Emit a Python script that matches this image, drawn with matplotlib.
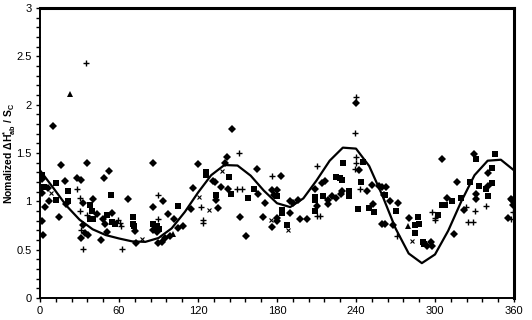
import matplotlib
matplotlib.use("Agg")
import matplotlib.pyplot as plt
from matplotlib.ticker import MultipleLocator

plt.rcParams['font.family'] = ['Liberation Sans', 'DejaVu Sans']
plt.rcParams['mathtext.default'] = 'regular'

# model curve (hue angle, normalized value)
curve_h = [0, 10, 20, 30, 40, 50, 60, 70, 80, 90, 100, 110, 120, 130, 140, 150, 160, 170, 180,
           190, 200, 210, 220, 230, 240, 250, 260, 270, 280, 290, 300, 310, 320, 330, 340, 350, 360]
curve_v = [1.32, 1.14, 0.955, 0.81, 0.71, 0.65, 0.615, 0.585, 0.58, 0.62, 0.72, 0.89, 1.09, 1.27,
           1.375, 1.37, 1.265, 1.11, 0.98, 0.94, 1.03, 1.215, 1.42, 1.555, 1.545, 1.365, 1.06,
           0.72, 0.46, 0.36, 0.45, 0.695, 1.0, 1.27, 1.42, 1.43, 1.32]

diam_h = [1.5, 1.5, 1.5, 2, 4, 6.3, 7, 9.6, 14.5, 16, 19, 20, 28.4, 31, 32.4, 31, 33, 34, 36.7, 35.5,
          40, 43, 48.6, 48, 49, 51, 46.3, 52.6, 54.4, 66.6, 72, 72.6, 86, 85.5, 86, 88.6, 89.8, 92.9,
          93.6, 95, 97.4, 98.7, 101.7, 105, 108.8, 115, 116.4, 120, 131.6, 133, 134, 135.4, 137.4,
          140.5, 141.7, 143, 145.5, 151.9, 156.4, 165, 165.8, 169.5, 171, 176, 176, 178, 179.7, 179.7,
          180, 183, 190, 190, 192, 196, 197.4, 203, 208.8, 210.6, 214.4, 216.4, 218.4, 218.4, 222, 225,
          228.3, 229.5, 240, 242.5, 248, 252, 253, 257.6, 260, 263, 261, 266, 271.6, 260, 262, 268,
          280.4, 293.6, 297.9, 296.9, 305, 308.8, 314.6, 317, 322, 329.8, 330.8, 331, 340.4, 340.4,
          355.6, 357.6, 358.6, 359.4]
diam_v = [1.23, 1.09, 0.80, 0.65, 0.94, 1.135, 1.0, 1.78, 0.835, 1.38, 1.21, 0.97, 1.24, 1.22, 0.98, 0.62,
          0.755, 0.67, 0.65, 1.40, 1.02, 0.87, 1.24, 0.82, 0.765, 0.686, 0.60, 1.31, 0.876, 1.02, 0.69,
          0.565, 1.40, 0.945, 0.70, 0.686, 0.57, 0.575, 1.0, 0.62, 0.865, 0.64, 0.82, 0.72, 0.745, 0.92,
          1.135, 1.39, 1.21, 1.20, 1.01, 0.93, 1.15, 1.40, 1.455, 1.13, 1.745, 0.835, 0.645, 1.33, 1.075,
          0.84, 0.98, 1.12, 0.73, 1.07, 0.825, 0.80, 1.12, 1.26, 1.0, 0.875, 0.985, 1.01, 0.815, 0.815,
          1.125, 0.95, 1.19, 1.21, 1.01, 0.97, 1.05, 1.03, 1.08, 1.11, 2.02, 1.32, 1.105, 1.17, 0.97,
          1.16, 1.145, 1.145, 1.065, 1.0, 0.98, 0.77, 0.77, 0.755, 0.825, 0.54, 0.54, 0.58, 1.44, 1.03,
          0.66, 1.20, 0.91, 1.486, 1.075, 1.02, 1.29, 1.16, 0.83, 1.02, 1.01, 0.96]

sq_h = [1.3, 2.8, 12, 12, 21.5, 21.5, 38, 39.2, 38, 40, 50.6, 54, 54.4, 57, 70.4, 70.4, 71.6, 86, 88.6,
        90.6, 105, 125.8, 125.8, 134, 143.5, 144.8, 157.7, 162.7, 179.7, 183.5, 183.5, 187.8, 208.8,
        208.8, 208.8, 214.7, 224.5, 227.8, 229.5, 229.8, 234.9, 234.9, 245, 244, 241.5, 250, 253.6,
        261.7, 270, 287, 284.7, 287.7, 284.7, 291, 291.8, 302.4, 305, 307.5, 313, 320, 326.5, 331,
        333.6, 339, 340.4, 343.4, 343.4, 345.5]
sq_v = [1.27, 1.15, 1.19, 1.01, 1.11, 1.0, 0.96, 0.90, 0.82, 0.82, 0.86, 1.07, 0.79, 0.765, 0.84, 0.765,
        0.74, 0.76, 0.74, 0.71, 0.955, 1.30, 1.27, 1.07, 1.255, 1.08, 1.03, 1.13, 1.05, 0.91, 0.875,
        0.755, 0.90, 1.01, 1.04, 1.055, 1.255, 1.24, 1.22, 1.40, 1.105, 1.055, 1.41, 1.20, 0.925, 0.93,
        0.89, 1.065, 0.90, 0.84, 0.755, 0.765, 0.675, 0.58, 0.56, 0.86, 0.96, 0.96, 1.006, 1.03, 1.20,
        1.44, 1.16, 1.13, 1.05, 1.34, 1.19, 1.486]

plus_h = [28.4, 30.4, 30.4, 31, 33, 35, 36, 59.5, 60.7, 61.5, 62, 89.8, 89.8, 122, 124, 124, 149.3,
          153.6, 151, 176.4, 210.6, 210, 213, 239, 240, 240, 240, 239, 243, 271, 297.4, 300, 300,
          323.5, 325, 329, 330, 339, 358, 359.4]
plus_v = [1.13, 1.03, 0.90, 0.70, 0.51, 2.43, 0.86, 0.81, 0.78, 0.74, 0.51, 1.06, 0.82, 0.94, 0.81, 0.78,
          1.125, 1.125, 1.50, 1.26, 1.365, 0.85, 0.85, 1.71, 2.08, 1.46, 1.40, 1.33, 1.13, 0.64, 0.885,
          0.83, 0.81, 0.945, 0.79, 0.79, 0.90, 0.95, 0.82, 0.89]

x_h = [8.5, 77.5, 121, 128, 138, 175.4, 188.5, 282.7]
x_v = [1.09, 0.61, 1.04, 0.91, 1.31, 0.81, 0.70, 0.59]

tri_h = [23, 101, 279.7]
tri_v = [2.11, 0.66, 0.74]

fig = plt.figure(figsize=(5.32, 3.2), dpi=100)
ax = fig.add_axes([0.0752, 0.069, 0.891, 0.906])

ax.plot(diam_h, diam_v, 'D', color='black', ms=3.9, mew=0, ls='none')
ax.plot(sq_h, sq_v, 's', color='black', ms=3.7, mew=0, ls='none')
ax.plot(plus_h, plus_v, '+', color='black', ms=3.8, mew=1.0, ls='none')
ax.plot(x_h, x_v, 'x', color='black', ms=2.8, mew=0.8, ls='none')
ax.plot(tri_h, tri_v, '^', color='black', ms=4.2, mew=0, ls='none')
ax.plot(curve_h, curve_v, '-', color='black', lw=1.6)

ax.set_xlim(0, 360)
ax.set_ylim(0, 3)
ax.xaxis.set_major_locator(MultipleLocator(60))
ax.xaxis.set_minor_locator(MultipleLocator(12))
ax.yaxis.set_minor_locator(MultipleLocator(0.1))
ax.set_yticks([0, 0.5, 1, 1.5, 2, 2.5, 3])
ax.set_yticklabels(['0', '0.5', '1', '1.5', '2', '2.5', '3'])
ax.tick_params(which='both', direction='out', length=3, width=1, labelsize=8, pad=3)

for s in ['left', 'bottom']:
    ax.spines[s].set_linewidth(1.4)
for s in ['top', 'right']:
    ax.spines[s].set_linewidth(2.2)

ax.set_ylabel(r'Nomalized $\Delta$H$^{*}_{ab}$ / S$_{C}$', fontsize=7.5, fontweight='bold')
ax.yaxis.set_label_coords(-0.047, 0.5)

fig.savefig('out.png', dpi=100)
